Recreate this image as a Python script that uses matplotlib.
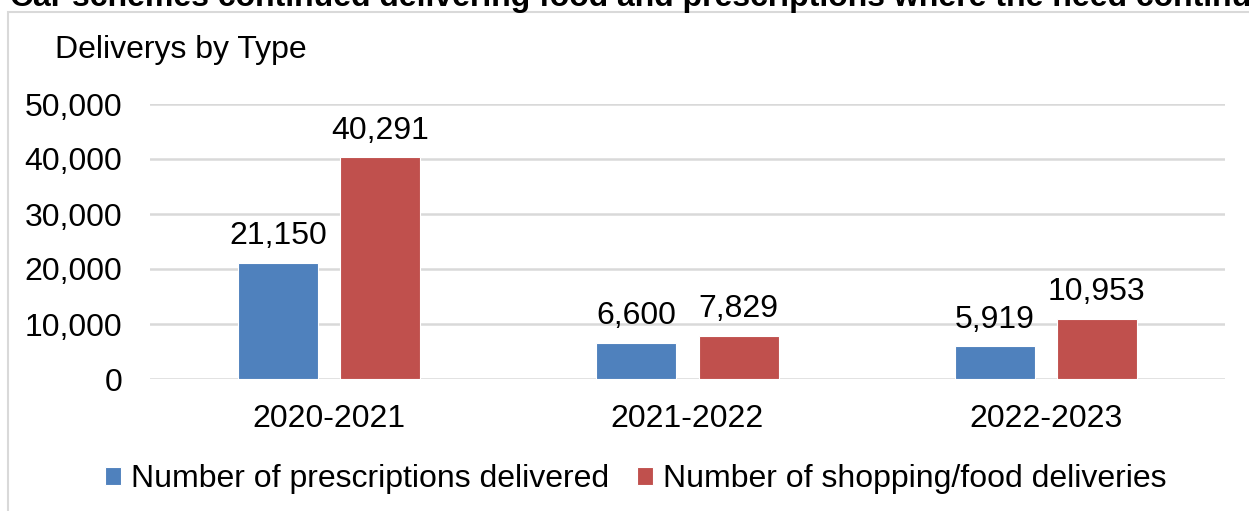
import matplotlib
matplotlib.use("Agg")
import matplotlib.pyplot as plt
from matplotlib.patches import Rectangle
import numpy as np

years = ["2020-2021", "2021-2022", "2022-2023"]
prescriptions = [21150, 6600, 5919]
shopping = [40291, 7829, 10953]
series_names = ["Number of prescriptions delivered", "Number of shopping/food deliveries"]

plt.rcParams["font.family"] = ["Liberation Sans", "DejaVu Sans"]
FS = 23

W, H = 1249, 511
fig = plt.figure(figsize=(W / 100, H / 100), dpi=100)
ax = fig.add_axes([150 / W, 1 - 379 / H, 1075 / W, 275 / H])

x = np.arange(len(years))
width = 0.2235
off = 0.1425

b1 = ax.bar(x - off, prescriptions, width, color="#4F81BD", edgecolor="white",
            linewidth=0.8, label=series_names[0], zorder=3)
b2 = ax.bar(x + off, shopping, width, color="#C0504D", edgecolor="white",
            linewidth=0.8, label=series_names[1], zorder=3)

for bars, vals in ((b1, prescriptions), (b2, shopping)):
    for rect, v in zip(bars, vals):
        ax.annotate(f"{v:,}", (rect.get_x() + rect.get_width() / 2, v),
                    xytext=(0, 13.5), textcoords="offset points",
                    ha="center", va="baseline", fontsize=FS)

ax.set_xlim(-0.5, 2.5)
ax.set_ylim(0, 50000)
ax.set_yticks(np.arange(0, 50001, 10000))
ax.set_yticklabels([f"{t:,}" for t in range(0, 50001, 10000)])
ax.set_xticks(x)
ax.set_xticklabels(years)
ax.tick_params(axis="both", length=0, labelsize=FS)
ax.tick_params(axis="y", pad=20)
ax.tick_params(axis="x", pad=18)
ax.grid(axis="y", color="#D9D9D9", linewidth=1.8, zorder=0)
for s in ax.spines.values():
    s.set_visible(False)

# outer chart frame, runs off the right and bottom edges
fig.patches.append(Rectangle((8 / W, -0.1), 1.2, 1 - 12 / H + 0.1,
                             transform=fig.transFigure, fill=False,
                             edgecolor="#D9D9D9", linewidth=1.5))

fig.text(10 / W, 1 - 6 / H,
         "Car schemes continued delivering food and prescriptions where the need continued",
         fontsize=FS, fontweight="bold", va="baseline", ha="left")
fig.text(55 / W, 1 - 58 / H, "Deliverys by Type", fontsize=FS, va="baseline", ha="left")

fig.legend(loc="center", bbox_to_anchor=(0.509, 1 - 479 / H), ncol=2, frameon=False,
           fontsize=FS, handlelength=0.5, handleheight=0.5, handletextpad=0.3,
           columnspacing=0.9, borderaxespad=0)

fig.savefig("out.png", dpi=100)
